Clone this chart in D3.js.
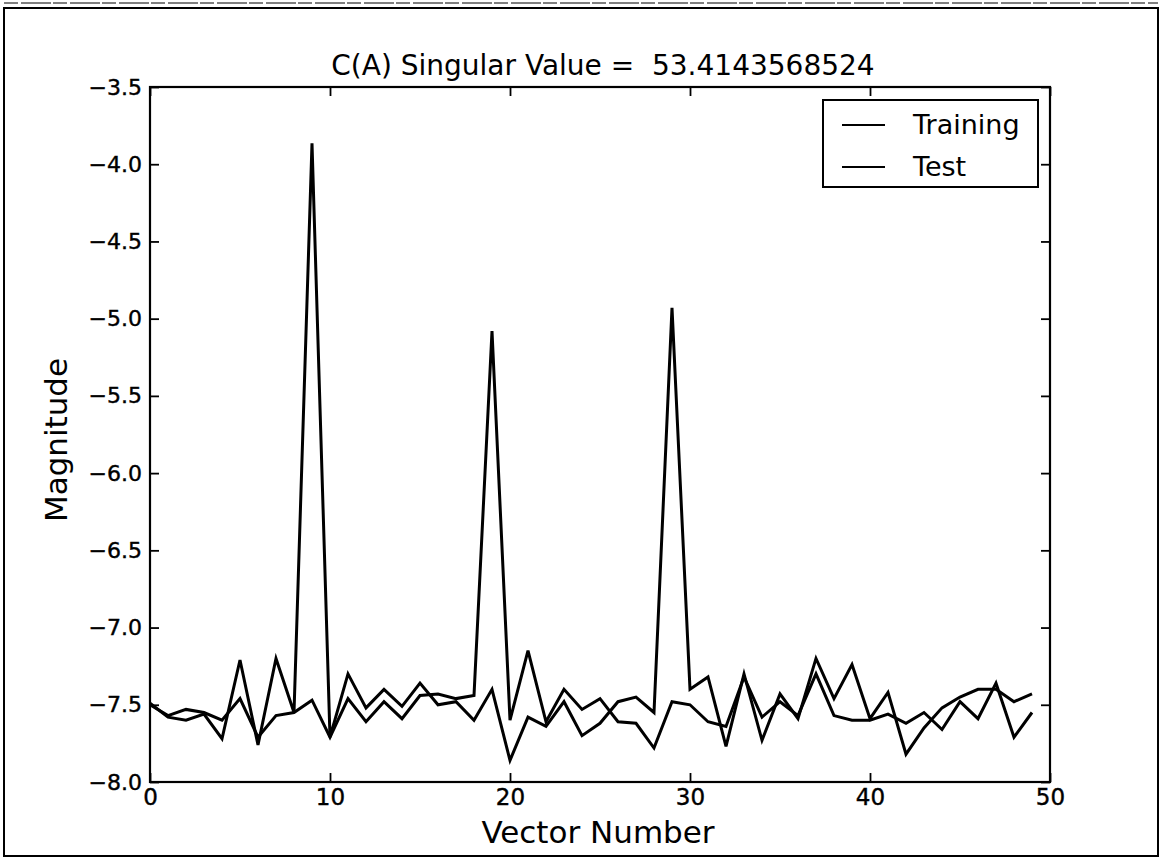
<!DOCTYPE html>
<html>
<head>
<meta charset="utf-8">
<script src="https://cdn.jsdelivr.net/npm/d3@7"></script>
<style>
  body { margin: 0; background: #fff; }
  text { font-family: "DejaVu Sans", sans-serif; fill: #000; }
</style>
</head>
<body>
<svg id="chart"></svg>
<script>
// values, one per vector number 0..49
var training = [
  -7.49, -7.58, -7.60, -7.56, -7.72, -7.21, -7.76, -7.20, -7.55, -3.865,
  -7.71, -7.30, -7.52, -7.40, -7.51, -7.36, -7.50, -7.48, -7.60, -7.40,
  -7.86, -7.58, -7.64, -7.48, -7.70, -7.62, -7.48, -7.45, -7.55, -4.93,
  -7.40, -7.32, -7.77, -7.30, -7.73, -7.43, -7.59, -7.20, -7.46, -7.24,
  -7.59, -7.42, -7.82, -7.65, -7.52, -7.45, -7.40, -7.40, -7.48, -7.43
];
var test = [
  -7.50, -7.57, -7.53, -7.55, -7.60, -7.46, -7.71, -7.57, -7.55, -7.47,
  -7.71, -7.46, -7.61, -7.48, -7.59, -7.44, -7.43, -7.46, -7.44, -5.08,
  -7.60, -7.15, -7.61, -7.40, -7.53, -7.46, -7.61, -7.62, -7.78, -7.48,
  -7.50, -7.61, -7.64, -7.32, -7.58, -7.48, -7.57, -7.30, -7.57, -7.60,
  -7.60, -7.56, -7.62, -7.55, -7.66, -7.48, -7.59, -7.36, -7.71, -7.55
];
var seriesNames = ["Training", "Test"];
var xTicks = [0, 10, 20, 30, 40, 50];
var yTicks = [-8.0, -7.5, -7.0, -6.5, -6.0, -5.5, -5.0, -4.5, -4.0, -3.5];
var yTickLabels = ["\u22128.0", "\u22127.5", "\u22127.0", "\u22126.5", "\u22126.0",
                   "\u22125.5", "\u22125.0", "\u22124.5", "\u22124.0", "\u22123.5"];
var title = "C(A) Singular Value =  53.4143568524";

var W = 1163, H = 861;
var pLeft = 150, pRight = 1050, pTop = 87, pBottom = 782;

var svg = d3.select('#chart').attr('width', W).attr('height', H);

// scanned page frame
svg.append('rect').attr('x', 4).attr('y', 8).attr('width', 1154).attr('height', 848)
  .attr('fill', 'none').attr('stroke', '#000').attr('stroke-width', 2);
svg.append('line').attr('x1', 4).attr('x2', 1158).attr('y1', 3).attr('y2', 3)
  .attr('stroke', '#000').attr('stroke-width', 1).attr('stroke-dasharray', '14,3,30,2');

var x = d3.scaleLinear().domain([0, 50]).range([pLeft, pRight]);
var y = d3.scaleLinear().domain([-8, -3.5]).range([pBottom, pTop]);

var line = d3.line()
  .x(function (d, i) { return x(i); })
  .y(function (d) { return y(d); });

[training, test].forEach(function (s) {
  svg.append('path')
    .datum(s)
    .attr('fill', 'none')
    .attr('stroke', '#000')
    .attr('stroke-width', 3)
    .attr('stroke-linejoin', 'miter')
    .attr('d', line);
});

// axes, ticks pointing inwards on all four sides
function styleAxis(g, size) {
  g.select('.domain').remove();
  g.selectAll('.tick line').attr('stroke', '#000').attr('stroke-width', 1.8);
  g.selectAll('.tick text').attr('font-size', size).attr('fill', '#000')
    .attr('stroke', '#000').attr('stroke-width', 0.4)
    .attr('font-family', '"DejaVu Sans", sans-serif');
}
svg.append('g').attr('transform', 'translate(0,' + pBottom + ')')
  .call(d3.axisBottom(x).tickValues(xTicks).tickFormat(d3.format('d'))
    .tickSizeInner(-9).tickSizeOuter(0).tickPadding(7))
  .call(styleAxis, 23);
svg.append('g').attr('transform', 'translate(0,' + pTop + ')')
  .call(d3.axisTop(x).tickValues(xTicks).tickFormat('').tickSizeInner(-9).tickSizeOuter(0))
  .call(styleAxis, 23);
svg.append('g').attr('transform', 'translate(' + pLeft + ',0)')
  .call(d3.axisLeft(y).tickValues(yTicks)
    .tickFormat(function (d, i) { return yTickLabels[i]; })
    .tickSizeInner(-9).tickSizeOuter(0).tickPadding(8))
  .call(styleAxis, 22);
svg.append('g').attr('transform', 'translate(' + pRight + ',0)')
  .call(d3.axisRight(y).tickValues(yTicks).tickFormat('').tickSizeInner(-9).tickSizeOuter(0))
  .call(styleAxis, 22);

svg.append('rect').attr('x', pLeft).attr('y', pTop)
  .attr('width', pRight - pLeft).attr('height', pBottom - pTop)
  .attr('fill', 'none').attr('stroke', '#000').attr('stroke-width', 2.2);

// titles
svg.append('text').attr('x', 603).attr('y', 75).attr('text-anchor', 'middle')
  .attr('font-size', 28).style('white-space', 'pre').text(title);
svg.append('text').attr('x', 598).attr('y', 843).attr('text-anchor', 'middle')
  .attr('font-size', 31).text('Vector Number');
svg.append('text').attr('transform', 'translate(67,440) rotate(-90)')
  .attr('text-anchor', 'middle').attr('font-size', 31).text('Magnitude');

// legend
var lg = svg.append('g');
lg.append('rect').attr('x', 823).attr('y', 100).attr('width', 215).attr('height', 87)
  .attr('fill', '#fff').attr('stroke', '#000').attr('stroke-width', 2);
seriesNames.forEach(function (name, i) {
  var yy = 125 + i * 42;
  lg.append('line').attr('x1', 842).attr('x2', 885).attr('y1', yy).attr('y2', yy)
    .attr('stroke', '#000').attr('stroke-width', 2.2);
  lg.append('text').attr('x', 913).attr('y', yy + 9).attr('font-size', 27).text(name);
});
</script>
</body>
</html>
